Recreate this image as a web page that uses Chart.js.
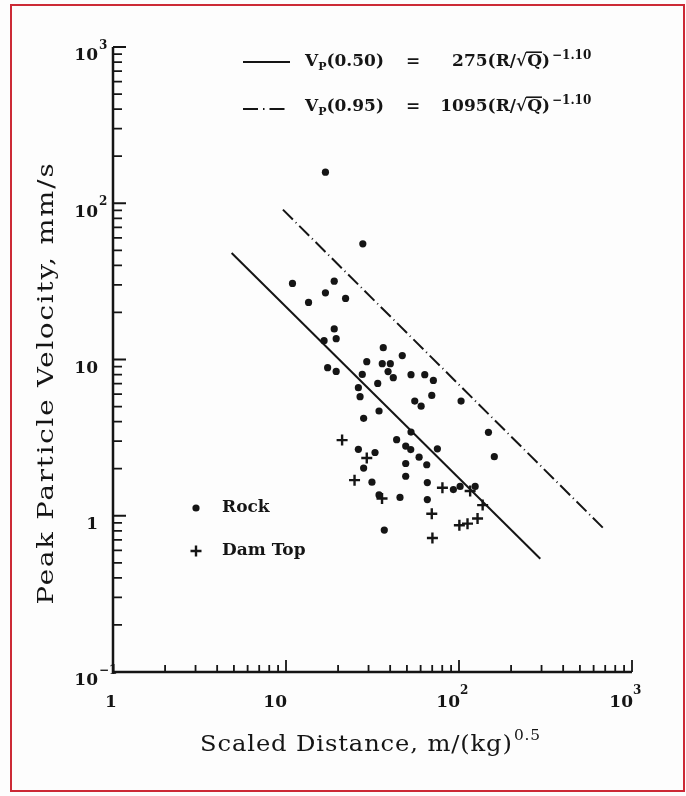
<!DOCTYPE html>
<html>
<head>
<meta charset="utf-8">
<script src="https://cdn.jsdelivr.net/npm/chart.js@4.4.1/dist/chart.umd.min.js"></script>
<style>
  html, body { margin: 0; padding: 0; background: #fdfdfd; }
  #wrap { position: relative; width: 686px; height: 796px; overflow: hidden; }
  #wrap canvas { position: absolute; left: 0; top: 0; }
  #frame { position: absolute; left: 10px; top: 4px; width: 671px; height: 784px; border: 2px solid #cc2a36; pointer-events: none; }
</style>
</head>
<body>
<div id="wrap">
  <canvas id="ppvChart" width="686" height="796"></canvas>
  <div id="frame"></div>
</div>
<script>
// scaled distance m/(kg)^0.5 and peak particle velocity mm/s
const rockDist = [16.9, 27.8, 10.9, 19.0, 16.9, 13.5, 22.1, 19.0, 19.5, 16.6,
  36.5, 47.0, 29.3, 36.0, 40.1, 17.4, 19.5, 38.9, 27.6, 41.7,
  52.8, 63.4, 71.1, 33.9, 26.2, 26.8, 69.6, 55.5, 60.4, 102.8,
  34.5, 28.1, 52.8, 148, 43.6, 49.2, 52.6, 26.2, 32.7, 75.0,
  58.8, 160, 28.1, 49.2, 65.1, 49.2, 31.4, 65.6, 101.5, 92.8,
  34.5, 45.6, 65.6, 37.0, 124];
const rockPPV = [158, 55.0, 30.7, 31.7, 26.7, 23.2, 24.6, 15.7, 13.6, 13.2,
  11.9, 10.6, 9.68, 9.40, 9.40, 8.86, 8.39, 8.37, 8.03, 7.65,
  8.00, 8.00, 7.35, 7.03, 6.60, 5.78, 5.89, 5.42, 5.03, 5.42,
  4.68, 4.20, 3.43, 3.42, 3.07, 2.79, 2.65, 2.66, 2.54, 2.68,
  2.37, 2.39, 2.02, 2.16, 2.12, 1.79, 1.64, 1.63, 1.54, 1.47,
  1.36, 1.31, 1.27, 0.81, 1.54];

const damDist = [21.1, 29.3, 24.9, 80.2, 116, 35.9, 137, 69.6, 128, 112, 100.5, 70.2];
const damPPV = [3.05, 2.34, 1.69, 1.51, 1.44, 1.29, 1.17, 1.03, 0.96, 0.89, 0.87, 0.72];

// end points of the two fitted lines as drawn
const fit50Dist = [4.85, 295];
const fit50PPV = [48, 0.53];
const fit95Dist = [9.6, 700];
const fit95PPV = [91, 0.81];

const xTickValues = [1, 10, 100, 1000];
const xTickText = ['1', '10', '10', '10'];
const xTickExp = ['', '', '2', '3'];
const yTickValues = [1000, 100, 10, 1, 0.1];
const yTickText = ['10', '10', '10', '1', '10'];
const yTickExp = ['3', '2', '', '', '\u22121'];

const ink = '#151515';
const serif = '"DejaVu Serif", "Liberation Serif", serif';

const pts = (xs, ys) => xs.map((v, i) => ({ x: v, y: ys[i] }));

function txt(ctx, s, x, y, size, align, weight) {
  ctx.font = (weight || 'bold') + ' ' + size + 'px ' + serif;
  ctx.textAlign = align || 'left';
  ctx.textBaseline = 'middle';
  ctx.fillText(s, x, y);
  return ctx.measureText(s).width;
}

// axis title with a main part and a superscript, stretched like the wide typewriter face
function title(ctx, main, sup, cx, cy, angle, stretch, spacing) {
  ctx.save();
  ctx.translate(cx, cy);
  ctx.rotate(angle);
  ctx.scale(stretch, 1);
  ctx.letterSpacing = spacing + 'px';
  ctx.font = '22px ' + serif;
  const w1 = ctx.measureText(main).width;
  ctx.font = '14px ' + serif;
  const w2 = sup ? ctx.measureText(sup).width : 0;
  const sx = -(w1 + w2) / 2;
  txt(ctx, main, sx, 0, 22, 'left', 'normal');
  if (sup) txt(ctx, sup, sx + w1 + 1, -9, 14, 'left', 'normal');
  ctx.restore();
}

function drawEq(ctx, y, tag, coef) {
  let x = 305;
  x += txt(ctx, 'V', x, y, 17);
  x += txt(ctx, 'P', x, y + 5, 11);
  txt(ctx, '(' + tag + ')', x, y, 17);
  txt(ctx, '=', 413, y, 17, 'center');
  ctx.font = 'bold 17px ' + serif;
  const parts = [coef + '(R/', '\u221A', 'Q', ')'];
  const w = parts.map(p => ctx.measureText(p).width);
  let sx = 550 - w.reduce((a, b) => a + b, 0);
  const rootTop = y - ctx.measureText('\u221A').actualBoundingBoxAscent;
  parts.forEach((p, i) => {
    txt(ctx, p, sx, y, 17);
    if (i === 2) ctx.fillRect(sx - 1, rootTop, w[i] + 1, 1.6);
    sx += w[i];
  });
  txt(ctx, '\u22121.10', 552, y - 6, 12);
}

const paperAxes = {
  id: 'paperAxes',
  afterDraw(chart) {
    const { ctx, chartArea: a, scales: { x, y } } = chart;
    ctx.save();
    ctx.strokeStyle = ink;
    ctx.fillStyle = ink;

    // axis lines
    ctx.lineWidth = 2.5;
    ctx.beginPath();
    ctx.moveTo(a.left, a.top);
    ctx.lineTo(a.left, a.bottom);
    ctx.lineTo(a.right, a.bottom);
    ctx.stroke();

    // inward log ticks
    ctx.lineWidth = 1.8;
    ctx.beginPath();
    for (let d = 0; d < 3; d++) {
      for (let m = 2; m <= 10; m++) {
        const px = x.getPixelForValue(m * Math.pow(10, d));
        ctx.moveTo(px, a.bottom);
        ctx.lineTo(px, a.bottom - (m === 10 ? 12 : 7));
      }
    }
    for (let d = -1; d < 3; d++) {
      for (let m = 2; m <= 10; m++) {
        const py = y.getPixelForValue(m * Math.pow(10, d));
        ctx.moveTo(a.left, py);
        ctx.lineTo(a.left + (m === 10 ? 13 : 9), py);
      }
    }
    ctx.stroke();

    // tick labels
    yTickValues.forEach((v, i) => {
      const py = y.getPixelForValue(v);
      txt(ctx, yTickText[i], 98, py + 9, 17, 'right');
      if (yTickExp[i]) txt(ctx, yTickExp[i], 99, py - 1, 12);
    });
    xTickValues.forEach((v, i) => {
      const px = x.getPixelForValue(v);
      if (!xTickExp[i] && xTickText[i] === '1') {
        txt(ctx, xTickText[i], px - 2, 703, 17, 'center');
      } else {
        txt(ctx, xTickText[i], px + 1, 703, 17, 'right');
        if (xTickExp[i]) txt(ctx, xTickExp[i], px + 1, 691, 12);
      }
    });

    // axis titles
    title(ctx, 'Scaled Distance, m/(kg)', '0.5', 370, 745, 0, 1.1, 0.8);
    title(ctx, 'Peak Particle Velocity, mm/s', '', 47, 383, -Math.PI / 2, 1.25, 1.5);

    // equation legend
    ctx.lineWidth = 2;
    ctx.beginPath();
    ctx.moveTo(243, 62);
    ctx.lineTo(290, 62);
    ctx.stroke();
    ctx.setLineDash([15, 5, 1.5, 5]);
    ctx.beginPath();
    ctx.moveTo(243, 109);
    ctx.lineTo(287, 109);
    ctx.stroke();
    ctx.setLineDash([]);
    drawEq(ctx, 62, '0.50', '275');
    drawEq(ctx, 107, '0.95', '1095');

    // marker legend
    ctx.beginPath();
    ctx.arc(196, 508, 3.6, 0, Math.PI * 2);
    ctx.fill();
    ctx.lineWidth = 2.4;
    ctx.beginPath();
    ctx.moveTo(190.5, 551);
    ctx.lineTo(201.5, 551);
    ctx.moveTo(196, 545.5);
    ctx.lineTo(196, 556.5);
    ctx.stroke();
    txt(ctx, 'Rock', 222, 508, 17);
    txt(ctx, 'Dam Top', 222, 551, 17);

    ctx.restore();
  }
};

new Chart(document.getElementById('ppvChart'), {
  type: 'scatter',
  data: {
    datasets: [
      {
        label: 'Rock',
        data: pts(rockDist, rockPPV),
        pointStyle: 'circle',
        pointRadius: 3.6,
        pointBackgroundColor: ink,
        pointBorderWidth: 0
      },
      {
        label: 'Dam Top',
        data: pts(damDist, damPPV),
        pointStyle: 'cross',
        pointRadius: 5.5,
        pointBorderColor: ink,
        pointBorderWidth: 2.4
      },
      {
        label: 'Vp(0.50)',
        data: pts(fit50Dist, fit50PPV),
        showLine: true,
        borderColor: ink,
        borderWidth: 2,
        pointRadius: 0
      },
      {
        label: 'Vp(0.95)',
        data: pts(fit95Dist, fit95PPV),
        showLine: true,
        borderColor: ink,
        borderWidth: 2,
        borderDash: [14, 4, 1, 4],
        pointRadius: 0
      }
    ]
  },
  options: {
    responsive: false,
    animation: false,
    layout: { padding: { left: 113, top: 47, right: 54, bottom: 124 } },
    plugins: {
      legend: { display: false },
      tooltip: { enabled: false }
    },
    scales: {
      x: { type: 'logarithmic', min: 1, max: 1000, display: false },
      y: { type: 'logarithmic', min: 0.1, max: 1000, display: false }
    }
  },
  plugins: [paperAxes]
});
</script>
</body>
</html>
